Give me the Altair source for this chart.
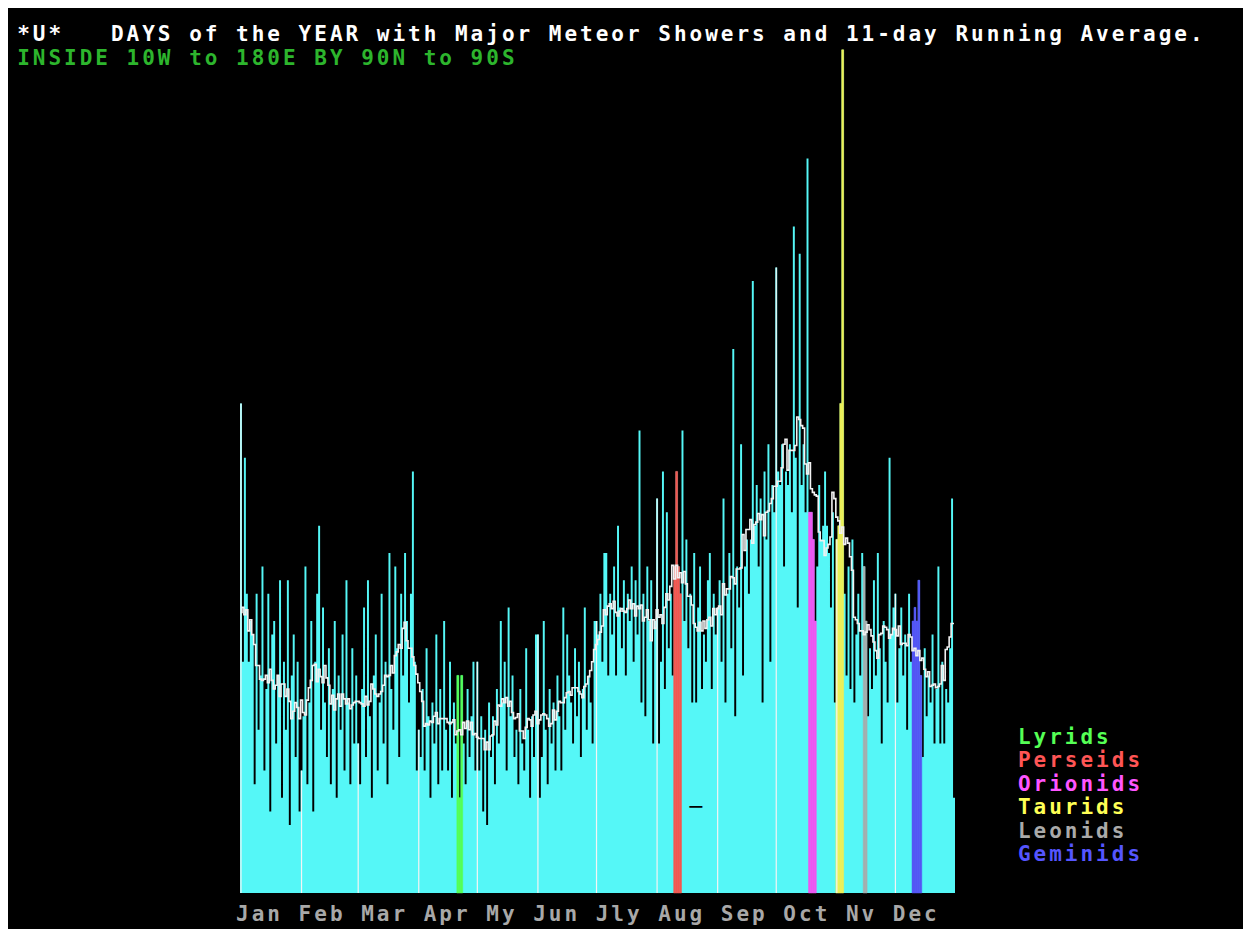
import altair as alt
import numpy as np
import pandas as pd

# ---------------- data (events per day, leap year) ----------------
jan = [36, 17, 32, 22, 17, 20, 19, 8, 22, 12, 16, 24, 9, 15, 22, 6, 19, 20, 11, 16, 23, 7, 17, 12, 23, 5, 16, 19, 10, 17, 6]
feb = [9, 13, 24, 8, 14, 20, 6, 17, 22, 27, 12, 21, 14, 10, 18, 8, 15, 20, 7, 16, 12, 19, 9, 23, 14, 8, 18, 11, 16]
mar = [11, 8, 15, 21, 10, 23, 13, 7, 16, 19, 9, 14, 22, 11, 17, 8, 25, 15, 12, 24, 18, 10, 22, 16, 25, 20, 14, 22, 31, 17, 9]
apr = [12, 10, 15, 9, 18, 13, 7, 14, 11, 19, 8, 15, 9, 20, 12, 9, 17, 7, 14, 11, 16, 7, 16, 11, 8, 15, 10, 13, 17, 9]
may = [17, 9, 13, 6, 12, 5, 14, 10, 13, 8, 15, 11, 20, 14, 17, 9, 21, 13, 16, 10, 12, 8, 15, 11, 9, 18, 12, 7, 13, 10, 19]
jun = [19, 7, 10, 20, 12, 8, 15, 11, 14, 9, 16, 13, 9, 21, 12, 19, 16, 14, 11, 18, 13, 17, 10, 15, 21, 12, 16, 14, 11, 20]
jul = [20, 19, 22, 17, 25, 25, 16, 22, 19, 24, 16, 27, 21, 18, 23, 16, 22, 20, 24, 17, 23, 19, 34, 14, 22, 13, 24, 20, 23, 11, 20]
aug = [29, 11, 17, 31, 15, 28, 18, 22, 16, 24, 31, 24, 22, 34, 20, 26, 18, 22, 14, 25, 14, 21, 24, 15, 19, 17, 23, 25, 15, 22, 19]
sep = [21, 23, 17, 29, 14, 22, 25, 18, 40, 13, 24, 21, 33, 16, 24, 26, 22, 26, 45, 27, 30, 24, 29, 14, 31, 26, 33, 17, 30, 28]
octo = [46, 31, 30, 33, 24, 31, 30, 33, 28, 49, 32, 21, 47, 30, 33, 28, 54, 28, 28, 26, 20, 24, 30, 26, 27, 31, 27, 25, 21, 28, 14]
nov = [26, 27, 36, 62, 22, 16, 24, 15, 26, 14, 19, 22, 16, 25, 24, 20, 13, 18, 15, 23, 16, 25, 18, 11, 20, 17, 14, 32, 19, 21]
dec = [22, 14, 18, 21, 16, 19, 12, 22, 17, 20, 21, 20, 23, 16, 10, 18, 13, 16, 14, 19, 11, 15, 24, 11, 17, 11, 15, 14, 18, 29, 7]

months_data = [jan, feb, mar, apr, may, jun, jul, aug, sep, octo, nov, dec]
month_labels = ["Jan", "Feb", "Mar", "Apr", "My", "Jun", "Jly", "Aug", "Sep", "Oct", "Nv", "Dec"]

# showers: name, month (1-12), first day of month, number of days
shower_names = ["Lyrids", "Perseids", "Orionids", "Taurids", "Leonids", "Geminids"]
shower_month = [4, 8, 10, 11, 11, 12]
shower_first = [21, 10, 18, 1, 15, 10]
shower_ndays = [3, 4, 4, 4, 2, 5]

title_text = "*U*   DAYS of the YEAR with Major Meteor Showers and 11-day Running Average."
subtitle_text = "INSIDE 10W to 180E BY 90N to 90S"

# ---------------- styles ----------------
CYAN = "#55F7F7"
shower_colors = ["#55FF55", "#F5554F", "#F055F0", "#F0F055", "#A5AFAF", "#5555F5"]
legend_colors = ["#55FF55", "#FF5555", "#FF55FF", "#FFFF55", "#AAAAAA", "#5555FF"]
W, H = 1235, 921
CW, RH = 1251 / 80, 937 / 40

# ---------------- build tables ----------------
values = np.array([v for m in months_data for v in m], dtype=float)
ndays = len(values)
month_len = [len(m) for m in months_data]
month_start = np.concatenate([[0], np.cumsum(month_len)[:-1]])

# circular 11-day running average
avg = sum(np.roll(values, k) for k in range(-5, 6)) / 11.0

kind = [None] * ndays
for name, mo, first, n, col in zip(shower_names, shower_month, shower_first, shower_ndays, shower_colors):
    start = int(month_start[mo - 1]) + first - 1
    for d in range(start, start + n):
        kind[d] = col

df = pd.DataFrame({
    "day": np.arange(ndays),
    "day_end": np.arange(ndays) + 1,
    "mid": np.arange(ndays) + 0.5,
    "v": values,
    "avg": avg,
    "fill": kind,
})
# step outline needs a closing point at the end of the last day
df_area = pd.concat([df[["day", "v"]], pd.DataFrame({"day": [ndays], "v": [values[-1]]})], ignore_index=True)
df_sh = df[df["fill"].notna()]
df_ms = df[df["day"].isin(month_start)]

# text on a character grid (80 x 40 cells)
rows = []
def put(text, col, row, color, dy=0.0):
    for i, ch in enumerate(text):
        if ch != " ":
            rows.append({"ch": ch, "px": (col + i + 0.5) * CW - 8, "py": (row + 0.5) * RH - 8 + dy, "c": color})

put(title_text, 1, 1, "#FFFFFF")
put(subtitle_text, 1, 2, "#2DB52D")
for k, (nm, col) in enumerate(zip(shower_names, legend_colors)):
    put(nm, 65, 31 + k, col)
put(" ".join(month_labels), 15, 39, "#A8A8A8", dy=-10)
put("\u2500", 44, 34, "#000000")
df_txt = pd.DataFrame(rows)

# ---------------- chart ----------------
BASE = 885
xs = alt.Scale(domain=[0, ndays], range=[232, 947], nice=False, zero=False)
ys = alt.Scale(domain=[0, 65], range=[BASE, BASE - 65 * 13.6], nice=False, zero=False)

area = alt.Chart(df_area).mark_area(interpolate="step-after", color=CYAN, opacity=1).encode(
    x=alt.X("day:Q", scale=xs, axis=None),
    y=alt.Y("v:Q", scale=ys, axis=None),
    y2=alt.value(BASE),
)

showers = alt.Chart(df_sh).mark_rect(strokeWidth=0.5).encode(
    x=alt.X("day:Q", scale=xs, axis=None),
    x2="day_end:Q",
    y=alt.Y("v:Q", scale=ys, axis=None),
    y2=alt.value(BASE),
    color=alt.Color("fill:N", scale=None),
    stroke=alt.Stroke("fill:N", scale=None),
)

mrules = alt.Chart(df_ms).mark_rule(color="#F4F4F4", strokeWidth=1.2).encode(
    x=alt.X("mid:Q", scale=xs, axis=None),
    y=alt.Y("v:Q", scale=ys, axis=None),
    y2=alt.value(BASE),
)

line = alt.Chart(df).mark_line(interpolate="step", color="#F2F2F2", strokeWidth=1.6).encode(
    x=alt.X("mid:Q", scale=xs, axis=None),
    y=alt.Y("avg:Q", scale=ys, axis=None),
)

txt = alt.Chart(df_txt).mark_text(
    font="DejaVu Sans Mono", fontSize=21, fontWeight="bold", align="center", baseline="middle"
).encode(
    x=alt.X("px:Q", scale=alt.Scale(domain=[0, W], range=[0, W], nice=False, zero=False), axis=None),
    y=alt.Y("py:Q", scale=alt.Scale(domain=[0, H], range=[0, H], nice=False, zero=False), axis=None),
    text="ch:N",
    color=alt.Color("c:N", scale=None),
)

chart = alt.layer(area, showers, mrules, line, txt).resolve_scale(
    x="independent", y="independent"
).properties(
    width=W, height=H, background="black", padding=0,
    autosize=alt.AutoSizeParams(type="none"),
).configure_view(stroke=None)

chart.save("out.html", embed_options={"renderer": "svg", "actions": False})
